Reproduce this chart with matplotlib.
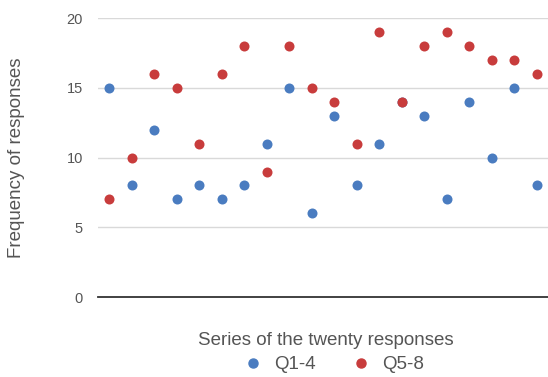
import matplotlib.pyplot as plt
from matplotlib.lines import Line2D

plt.rcParams['font.family'] = ['Liberation Sans', 'DejaVu Sans']

# twenty responses, two question groups
responses = list(range(1, 21))
q1_4 = [15, 8, 12, 7, 8, 7, 8, 11, 15, 6, 13, 8, 11, 14, 13, 7, 14, 10, 15, 8]
q5_8 = [7, 10, 16, 15, 11, 16, 18, 9, 18, 15, 14, 11, 19, 14, 18, 19, 18, 17, 17, 16]
yticks = [0, 5, 10, 15, 20]

blue = '#4a7cc0'
red = '#c83c3c'

fig = plt.figure(figsize=(5.48, 3.77), dpi=100)
ax = fig.add_axes([0.179, 0.212, 0.821, 0.74])

ax.scatter(responses, q1_4, s=52, color=blue, zorder=3, linewidths=0)
ax.scatter(responses, q5_8, s=52, color=red, zorder=3, linewidths=0)

ax.set_xlim(0.5, 20.5)
ax.set_ylim(0, 20)
ax.set_yticks(yticks)
ax.set_xticks([])
ax.grid(axis='y', color='#d9d9d9', linewidth=1)
ax.set_axisbelow(True)
for s in ['top', 'right', 'left']:
    ax.spines[s].set_visible(False)
ax.spines['bottom'].set_color('#333333')
ax.spines['bottom'].set_linewidth(1.3)
ax.spines['bottom'].set_zorder(2)
ax.tick_params(axis='y', length=0, pad=11, labelsize=10.5, labelcolor='#555555')

fig.text(0.03, 0.582, 'Frequency of responses', rotation=90, ha='center', va='center',
         fontsize=13.5, color='#555555')
fig.text(0.595, 0.098, 'Series of the twenty responses', ha='center', va='center',
         fontsize=13.5, color='#555555')

handles = [Line2D([], [], ls='', marker='o', ms=6.5, color=blue),
           Line2D([], [], ls='', marker='o', ms=6.5, color=red)]
fig.legend(handles, ['Q1-4', 'Q5-8'], loc='center', bbox_to_anchor=(0.609, 0.032),
           ncol=2, frameon=False, fontsize=13.5, labelcolor='#555555',
           handlelength=1.0, handletextpad=0.62, columnspacing=1.9,
           borderpad=0, borderaxespad=0)

fig.savefig('out.png', dpi=100)
